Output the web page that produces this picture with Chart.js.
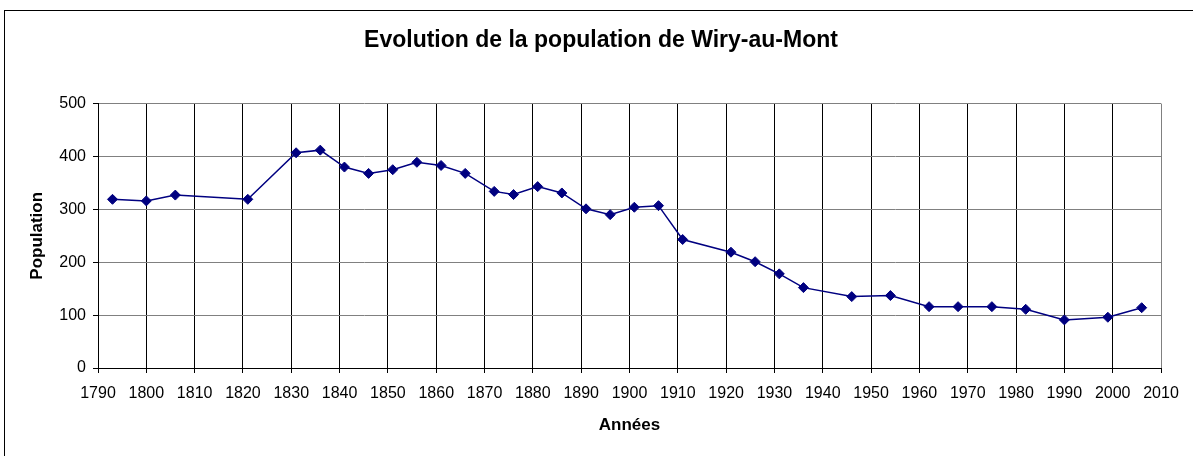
<!DOCTYPE html>
<html>
<head>
<meta charset="utf-8">
<script src="https://cdn.jsdelivr.net/npm/chart.js@4"></script>
<style>
  html, body { margin: 0; padding: 0; background: #fff; overflow: hidden; }
  #wrap { position: relative; width: 1193px; height: 456px; }
  #frame { position: absolute; left: 4px; top: 10px; width: 1300px; height: 600px; border: 1px solid #000; box-sizing: border-box; }
  canvas { position: absolute; left: 0; top: 0; }
</style>
</head>
<body>
<div id="wrap">
  <div id="frame"></div>
  <canvas id="popChart" width="1193" height="456"></canvas>
</div>
<script>
var years = [1793, 1800, 1806, 1821, 1831, 1836, 1841, 1846, 1851, 1856, 1861, 1866, 1872, 1876, 1881, 1886, 1891, 1896, 1901, 1906, 1911, 1921, 1926, 1931, 1936, 1946, 1954, 1962, 1968, 1975, 1982, 1990, 1999, 2006];
var population = [319, 316, 327, 319, 407, 412, 380, 368, 375, 389, 383, 368, 334, 328, 343, 331, 301, 290, 304, 307, 243, 219, 201, 178, 152, 135, 137, 116, 116, 116, 111, 91, 96, 114];

var xMin = 1790, xMax = 2010, xStep = 10;
var yMin = 0, yMax = 500, yStep = 100;

var points = [];
for (var i = 0; i < years.length; i++) {
  points.push({ x: years[i], y: population[i] });
}

var fontFamily = "'Liberation Sans', Arial, sans-serif";

new Chart(document.getElementById("popChart"), {
  type: "line",
  data: {
    datasets: [{
      label: "Population",
      data: points,
      borderColor: "#000080",
      backgroundColor: "#000080",
      borderWidth: 1.5,
      pointStyle: "rectRot",
      pointRadius: 5,
      pointBorderWidth: 1,
      pointBackgroundColor: "#000080",
      pointBorderColor: "#000080",
      tension: 0,
      fill: false
    }]
  },
  options: {
    responsive: false,
    animation: false,
    // left padding shifts the centred title to match the original
    layout: { padding: { left: 41, right: 32, top: 0, bottom: 0 } },
    plugins: {
      legend: { display: false },
      tooltip: { enabled: false },
      title: {
        display: true,
        text: "Evolution de la population de Wiry-au-Mont",
        color: "#000",
        font: { family: fontFamily, size: 23, weight: "bold" },
        padding: { top: 27, bottom: 49 }
      }
    },
    scales: {
      x: {
        type: "linear",
        min: xMin,
        max: xMax,
        afterFit: function(scale) { scale.height = 88; },
        ticks: {
          stepSize: xStep,
          color: "#000",
          padding: 11,
          font: { family: fontFamily, size: 16 },
          callback: function(v) { return String(v); }
        },
        grid: {
          color: function(ctx) { return ctx.tick && ctx.tick.value === xMax ? "#808080" : "#000"; },
          tickColor: "#000",
          tickLength: 5,
          lineWidth: 1
        },
        border: { color: "#000", width: 1 },
        title: {
          display: true,
          text: "Années",
          color: "#000",
          font: { family: fontFamily, size: 17, weight: "bold" },
          padding: { top: 0, bottom: 20 }
        }
      },
      y: {
        min: yMin,
        max: yMax,
        afterFit: function(scale) { scale.width = 57; },
        ticks: {
          stepSize: yStep,
          color: "#000",
          padding: 7,
          font: { family: fontFamily, size: 16 }
        },
        grid: {
          color: "#808080",
          tickColor: "#000",
          tickLength: 5,
          lineWidth: 1
        },
        border: { color: "#000", width: 1 },
        title: {
          display: true,
          text: "Population",
          color: "#000",
          font: { family: fontFamily, size: 17, weight: "bold" },
          padding: { top: -14, bottom: 0 }
        }
      }
    }
  }
});
</script>
</body>
</html>
